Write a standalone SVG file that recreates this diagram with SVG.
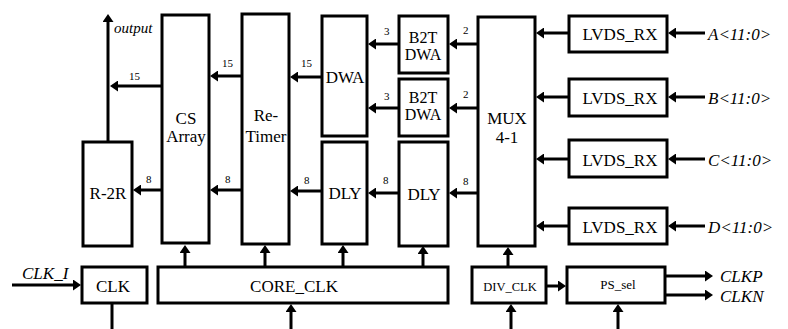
<svg xmlns="http://www.w3.org/2000/svg" width="788" height="329" viewBox="0 0 788 329">
<style>
.b{fill:#fff;stroke:#000;stroke-width:3}
.c{fill:none;stroke:#000;stroke-width:3;marker-end:url(#ah)}
.p{fill:none;stroke:#000;stroke-width:3}
.t{font-size:17px;text-anchor:middle}
.s{font-size:11px}
.i{font-size:17px;font-style:italic}
</style>
<defs>
<marker id="ah" viewBox="0 0 8 11" markerWidth="8" markerHeight="11" refX="5" refY="5.5" orient="auto" markerUnits="userSpaceOnUse">
<path d="M0,0 L8,5.5 L0,11 z" fill="#000"/>
</marker>
</defs>
<rect width="788" height="329" fill="#fff"/>
<g font-family="'Liberation Serif', 'Times New Roman', serif" fill="#000">
<g id="connectors">
<path class="c" d="M108,142 V17"/>
<path class="c" d="M162,86 H113"/>
<path class="c" d="M242,76 H213"/>
<path class="c" d="M322,77 H293"/>
<path class="c" d="M399,44 H371"/>
<path class="c" d="M399,108 H371"/>
<path class="c" d="M478,44 H452"/>
<path class="c" d="M478,108 H452"/>
<path class="c" d="M569,33 H539"/>
<path class="c" d="M569,97 H539"/>
<path class="c" d="M569,159 H539"/>
<path class="c" d="M569,226 H539"/>
<path class="c" d="M705,33 H671"/>
<path class="c" d="M705,97 H671"/>
<path class="c" d="M705,159 H671"/>
<path class="c" d="M705,226 H671"/>
<path class="c" d="M162,190 H136"/>
<path class="c" d="M242,190 H213"/>
<path class="c" d="M322,191 H293"/>
<path class="c" d="M399,193 H371"/>
<path class="c" d="M478,193 H452"/>
<path class="c" d="M185,267 V248"/>
<path class="c" d="M265,267 V248"/>
<path class="c" d="M343,267 V248"/>
<path class="c" d="M423,267 V249"/>
<path class="c" d="M291,329 V307"/>
<path class="c" d="M12,285 H78"/>
<path class="p" d="M112,303 V329"/>
<path class="c" d="M508,267 V250"/>
<path class="c" d="M546,286 H563"/>
<path class="c" d="M511,329 V307"/>
<path class="c" d="M618,329 V307"/>
<path class="c" d="M665,276 H710"/>
<path class="c" d="M665,295 H710"/>
<text class="s" x="129" y="80">15</text>
<text class="s" x="222" y="67">15</text>
<text class="s" x="301" y="67">15</text>
<text class="s" x="384" y="35">3</text>
<text class="s" x="384" y="100">3</text>
<text class="s" x="463" y="34">2</text>
<text class="s" x="463" y="98">2</text>
<text class="s" x="146" y="183">8</text>
<text class="s" x="225" y="183">8</text>
<text class="s" x="304" y="184">8</text>
<text class="s" x="383" y="184">8</text>
<text class="s" x="463" y="185">8</text>
<text class="i" x="114" y="33" style="font-size:15px">output</text>
<text class="i" x="22" y="279">CLK_I</text>
<text class="i" x="708" y="40">A&lt;11:0&gt;</text>
<text class="i" x="708" y="104">B&lt;11:0&gt;</text>
<text class="i" x="708" y="166">C&lt;11:0&gt;</text>
<text class="i" x="708" y="233">D&lt;11:0&gt;</text>
<text class="i" x="720" y="282">CLKP</text>
<text class="i" x="720" y="302">CLKN</text>
</g>
<g id="cs-array"><rect class="b" x="162" y="15" width="47" height="228"/><text class="t" x="186" y="124">CS</text><text class="t" x="186" y="142">Array</text></g>
<g id="re-timer"><rect class="b" x="242" y="14" width="47" height="230"/><text class="t" x="266" y="121">Re-</text><text class="t" x="266" y="142">Timer</text></g>
<g id="r-2r"><rect class="b" x="83" y="142" width="49" height="104"/><text class="t" x="108" y="199">R-2R</text></g>
<g id="dwa"><rect class="b" x="322" y="16" width="45" height="120"/><text class="t" x="345" y="83">DWA</text></g>
<g id="b2t-dwa-1"><rect class="b" x="399" y="16" width="49" height="57"/><text class="t" x="423" y="43" style="font-size:16px">B2T</text><text class="t" x="423" y="60" style="font-size:16px">DWA</text></g>
<g id="b2t-dwa-2"><rect class="b" x="399" y="79" width="49" height="57"/><text class="t" x="423" y="103" style="font-size:16px">B2T</text><text class="t" x="423" y="120" style="font-size:16px">DWA</text></g>
<g id="dly-1"><rect class="b" x="322" y="142" width="45" height="102"/><text class="t" x="345" y="199">DLY</text></g>
<g id="dly-2"><rect class="b" x="399" y="142" width="49" height="104"/><text class="t" x="424" y="200">DLY</text></g>
<g id="mux"><rect class="b" x="478" y="17" width="57" height="229"/><text class="t" x="507" y="124">MUX</text><text class="t" x="507" y="143">4-1</text></g>
<g id="lvds-a"><rect class="b" x="569" y="16" width="98" height="36"/><text class="t" x="620" y="40">LVDS_RX</text></g>
<g id="lvds-b"><rect class="b" x="569" y="79" width="98" height="37"/><text class="t" x="620" y="104">LVDS_RX</text></g>
<g id="lvds-c"><rect class="b" x="569" y="140" width="98" height="37"/><text class="t" x="620" y="166">LVDS_RX</text></g>
<g id="lvds-d"><rect class="b" x="569" y="208" width="98" height="36"/><text class="t" x="620" y="233">LVDS_RX</text></g>
<g id="clk"><rect class="b" x="82" y="267" width="65" height="36"/><text class="t" x="113" y="292">CLK</text></g>
<g id="core-clk"><rect class="b" x="158" y="267" width="290" height="36"/><text class="t" x="294" y="292">CORE_CLK</text></g>
<g id="div-clk"><rect class="b" x="472" y="267" width="74" height="36"/><text class="t" x="510" y="291" style="font-size:12.5px">DIV_CLK</text></g>
<g id="ps-sel"><rect class="b" x="567" y="267" width="98" height="36"/><text class="t" x="618" y="289" style="font-size:13px">PS_sel</text></g>
</g>
</svg>
